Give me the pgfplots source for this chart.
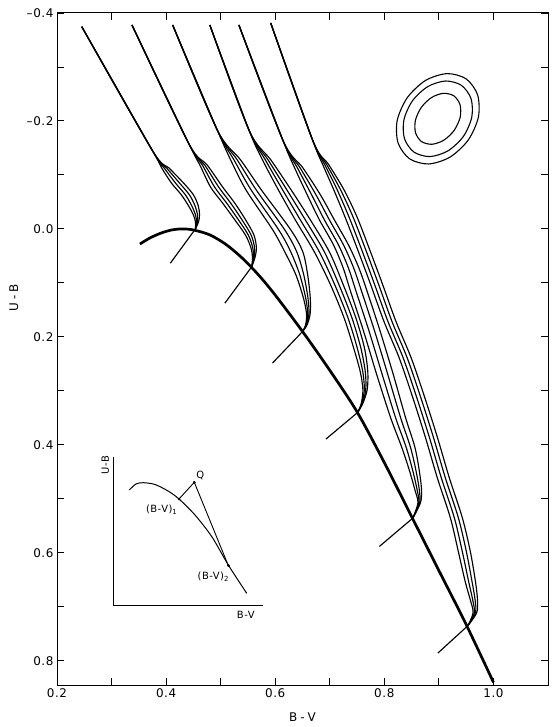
\documentclass[border=0pt]{standalone}
\usepackage{fontspec}
\setmainfont{DejaVu Sans}[LetterSpace=5]
\usepackage{pgfplots}
\usetikzlibrary{calc}
\pgfplotsset{compat=1.18}
\begin{document}
\begin{tikzpicture}
\pgfplotsset{
  tc/.style={black, line width=1.15bp, smooth, no markers},
  tl/.style={black, line width=1.15bp, no markers},
}
\begin{axis}[name=main, scale only axis, width=491bp, height=672bp,
  xmin=0.2, xmax=1.1, ymin=-0.4, ymax=0.845, y dir=reverse,
  xtick={0.2,0.3,0.4,0.5,0.6,0.7,0.8,0.9,1.0},
  xticklabels={0.2,,0.4,,0.6,,0.8,,1.0},
  ytick={-0.4,-0.3,-0.2,-0.1,0,0.1,0.2,0.3,0.4,0.5,0.6,0.7,0.8},
  yticklabels={{--\hspace{0.05em}0.4},,{--\hspace{0.05em}0.2},,0.0,,0.2,,0.4,,0.6,,0.8},
  tick style={black, line width=0.9bp}, major tick length=7bp,
  axis line style={line width=1.0bp},
  ticklabel style={font=\fontsize{12}{14}\selectfont},
  xlabel={B\hspace{0.25em}-\hspace{0.25em}V}, ylabel={U\hspace{0.25em}-\hspace{0.25em}B},
  label style={font=\fontsize{12}{14}\selectfont},
  ylabel style={at={(axis description cs:-0.088,0.576)}, anchor=center},
  xlabel style={at={(axis description cs:0.5,-0.048)}, anchor=center},
]
% intrinsic line (thick)
\addplot[black, line width=2.7bp, smooth] coordinates {(0.352,0.028) (0.37,0.017) (0.39,0.008) (0.41,0.002) (0.43,0.0) (0.45,0.002) (0.48,0.011) (0.51,0.029) (0.54,0.0545) (0.57,0.086) (0.60,0.1226) (0.65,0.190) (0.70,0.262) (0.75,0.339) (0.80,0.433) (0.85,0.533) (0.90,0.633) (0.95,0.733) (1.0,0.84)};
% bundle 1
\addplot[tc] coordinates {(0.2454,-0.3746) (0.3742,-0.1463) (0.3919,-0.1130) (0.4096,-0.0852) (0.4280,-0.0630) (0.4412,-0.0426) (0.4500,-0.0259) (0.4538,-0.0130) (0.4538,0.0)};
\addplot[tc] coordinates {(0.2454,-0.3746) (0.3742,-0.1463) (0.3964,-0.1130) (0.4170,-0.0852) (0.4354,-0.0630) (0.4471,-0.0426) (0.4538,-0.0259) (0.4557,-0.0130) (0.4538,0.0)};
\addplot[tc] coordinates {(0.2454,-0.3746) (0.3742,-0.1463) (0.4008,-0.1130) (0.4244,-0.0852) (0.4428,-0.0630) (0.4531,-0.0426) (0.4575,-0.0259) (0.4575,-0.0130) (0.4538,0.0)};
\addplot[tc] coordinates {(0.2454,-0.3746) (0.3742,-0.1463) (0.4053,-0.1130) (0.4318,-0.0852) (0.4502,-0.0630) (0.4590,-0.0426) (0.4612,-0.0259) (0.4594,-0.0130) (0.4538,0.0)};
\addplot[tl] coordinates {(0.4538,0.0) (0.4078,0.0635)};
% bundle 2
\addplot[tc] coordinates {(0.3374,-0.3778) (0.4409,-0.1593) (0.4618,-0.1185) (0.4813,-0.0778) (0.5034,-0.0481) (0.5247,-0.0185) (0.5453,0.0111) (0.5555,0.0352) (0.5583,0.0537) (0.5568,0.0704)};
\addplot[tc] coordinates {(0.3374,-0.3778) (0.4409,-0.1593) (0.4663,-0.1185) (0.4887,-0.0778) (0.5108,-0.0481) (0.5314,-0.0185) (0.5505,0.0111) (0.5588,0.0352) (0.5598,0.0537) (0.5568,0.0704)};
\addplot[tc] coordinates {(0.3374,-0.3778) (0.4409,-0.1593) (0.4707,-0.1185) (0.4961,-0.0778) (0.5182,-0.0481) (0.5380,-0.0185) (0.5557,0.0111) (0.5622,0.0352) (0.5612,0.0537) (0.5568,0.0704)};
\addplot[tc] coordinates {(0.3374,-0.3778) (0.4409,-0.1593) (0.4752,-0.1185) (0.5035,-0.0778) (0.5256,-0.0481) (0.5447,-0.0185) (0.5609,0.0111) (0.5655,0.0352) (0.5627,0.0537) (0.5568,0.0704)};
\addplot[tl] coordinates {(0.5568,0.0704) (0.5077,0.1376)};
% bundle 3
\addplot[tc] coordinates {(0.4120,-0.3778) (0.4937,-0.1833) (0.5183,-0.1278) (0.5464,-0.0722) (0.5955,0.0019) (0.6175,0.0426) (0.6379,0.0852) (0.6516,0.1278) (0.6574,0.1574) (0.6557,0.1778) (0.6500,0.1902)};
\addplot[tc] coordinates {(0.4120,-0.3778) (0.4937,-0.1833) (0.5244,-0.1278) (0.5558,-0.0722) (0.6065,0.0019) (0.6285,0.0426) (0.6451,0.0852) (0.6558,0.1278) (0.6596,0.1574) (0.6566,0.1778) (0.6500,0.1902)};
\addplot[tc] coordinates {(0.4120,-0.3778) (0.4937,-0.1833) (0.5304,-0.1278) (0.5652,-0.0722) (0.6175,0.0019) (0.6395,0.0426) (0.6523,0.0852) (0.6600,0.1278) (0.6618,0.1574) (0.6574,0.1778) (0.6500,0.1902)};
\addplot[tc] coordinates {(0.4120,-0.3778) (0.4937,-0.1833) (0.5365,-0.1278) (0.5746,-0.0722) (0.6286,0.0019) (0.6506,0.0426) (0.6595,0.0852) (0.6642,0.1278) (0.6640,0.1574) (0.6583,0.1778) (0.6500,0.1902)};
\addplot[tl] coordinates {(0.6500,0.1902) (0.5949,0.2487)};
% bundle 4
\addplot[tc] coordinates {(0.4801,-0.3778) (0.5518,-0.1833) (0.5768,-0.1278) (0.6058,-0.0722) (0.6368,-0.0167) (0.6717,0.0426) (0.7014,0.1037) (0.7262,0.1648) (0.7437,0.2204) (0.7559,0.2648) (0.7607,0.2981) (0.7577,0.3234) (0.7512,0.3400)};
\addplot[tc] coordinates {(0.4801,-0.3778) (0.5518,-0.1833) (0.5819,-0.1278) (0.6136,-0.0722) (0.6460,-0.0167) (0.6809,0.0426) (0.7092,0.1037) (0.7334,0.1648) (0.7503,0.2204) (0.7605,0.2648) (0.7633,0.2981) (0.7586,0.3234) (0.7512,0.3400)};
\addplot[tc] coordinates {(0.4801,-0.3778) (0.5518,-0.1833) (0.5869,-0.1278) (0.6214,-0.0722) (0.6552,-0.0167) (0.6901,0.0426) (0.7170,0.1037) (0.7406,0.1648) (0.7569,0.2204) (0.7651,0.2648) (0.7659,0.2981) (0.7596,0.3234) (0.7512,0.3400)};
\addplot[tc] coordinates {(0.4801,-0.3778) (0.5518,-0.1833) (0.5920,-0.1278) (0.6292,-0.0722) (0.6644,-0.0167) (0.6993,0.0426) (0.7248,0.1037) (0.7478,0.1648) (0.7635,0.2204) (0.7697,0.2648) (0.7685,0.2981) (0.7605,0.3234) (0.7512,0.3400)};
\addplot[tl] coordinates {(0.7512,0.3400) (0.6929,0.3894)};
% bundle 5
\addplot[tc] coordinates {(0.5334,-0.3778) (0.6138,-0.1648) (0.6356,-0.1130) (0.6587,-0.0630) (0.6810,-0.0167) (0.7068,0.0296) (0.7245,0.0722) (0.7384,0.1167) (0.7623,0.1907) (0.7862,0.2704) (0.8116,0.3500) (0.8316,0.4037) (0.8456,0.4463) (0.8560,0.4833) (0.8616,0.5074) (0.8523,0.5357)};
\addplot[tc] coordinates {(0.5334,-0.3778) (0.6138,-0.1648) (0.6407,-0.1130) (0.6668,-0.0630) (0.6901,-0.0167) (0.7159,0.0296) (0.7341,0.0722) (0.7485,0.1167) (0.7724,0.1907) (0.7963,0.2704) (0.8207,0.3500) (0.8397,0.4037) (0.8517,0.4463) (0.8601,0.4833) (0.8631,0.5074) (0.8523,0.5357)};
\addplot[tc] coordinates {(0.5334,-0.3778) (0.6138,-0.1648) (0.6457,-0.1130) (0.6748,-0.0630) (0.6993,-0.0167) (0.7251,0.0296) (0.7437,0.0722) (0.7587,0.1167) (0.7826,0.1907) (0.8065,0.2704) (0.8299,0.3500) (0.8477,0.4037) (0.8577,0.4463) (0.8641,0.4833) (0.8647,0.5074) (0.8523,0.5357)};
\addplot[tc] coordinates {(0.5334,-0.3778) (0.6138,-0.1648) (0.6508,-0.1130) (0.6829,-0.0630) (0.7084,-0.0167) (0.7342,0.0296) (0.7533,0.0722) (0.7688,0.1167) (0.7927,0.1907) (0.8166,0.2704) (0.8390,0.3500) (0.8558,0.4037) (0.8638,0.4463) (0.8682,0.4833) (0.8662,0.5074) (0.8523,0.5357)};
\addplot[tl] coordinates {(0.8523,0.5357) (0.7909,0.5883)};
% bundle 6
\addplot[tc] coordinates {(0.5917,-0.3815) (0.6684,-0.1648) (0.6874,-0.1185) (0.7074,-0.0722) (0.7279,-0.0222) (0.7499,0.0352) (0.7738,0.1000) (0.7996,0.1722) (0.8272,0.2389) (0.8511,0.3093) (0.8750,0.3852) (0.8971,0.4611) (0.9210,0.5352) (0.9357,0.5981) (0.9483,0.6537) (0.9575,0.6870) (0.9627,0.7111) (0.9531,0.7352)};
\addplot[tc] coordinates {(0.5917,-0.3815) (0.6684,-0.1648) (0.6911,-0.1185) (0.7137,-0.0722) (0.7352,-0.0222) (0.7572,0.0352) (0.7811,0.1000) (0.8069,0.1722) (0.8345,0.2389) (0.8584,0.3093) (0.8823,0.3852) (0.9044,0.4611) (0.9283,0.5352) (0.9430,0.5981) (0.9546,0.6537) (0.9619,0.6870) (0.9649,0.7111) (0.9531,0.7352)};
\addplot[tc] coordinates {(0.5917,-0.3815) (0.6684,-0.1648) (0.6947,-0.1185) (0.7199,-0.0722) (0.7426,-0.0222) (0.7646,0.0352) (0.7885,0.1000) (0.8143,0.1722) (0.8419,0.2389) (0.8658,0.3093) (0.8897,0.3852) (0.9118,0.4611) (0.9357,0.5352) (0.9504,0.5981) (0.9608,0.6537) (0.9663,0.6870) (0.9671,0.7111) (0.9531,0.7352)};
\addplot[tc] coordinates {(0.5917,-0.3815) (0.6684,-0.1648) (0.6984,-0.1185) (0.7262,-0.0722) (0.7499,-0.0222) (0.7719,0.0352) (0.7958,0.1000) (0.8216,0.1722) (0.8492,0.2389) (0.8731,0.3093) (0.8970,0.3852) (0.9191,0.4611) (0.9430,0.5352) (0.9577,0.5981) (0.9671,0.6537) (0.9707,0.6870) (0.9693,0.7111) (0.9531,0.7352)};
\addplot[tl] coordinates {(0.9531,0.7352) (0.8983,0.7857)};
% ellipses
\addplot[black, line width=1.1bp, smooth cycle] coordinates {(0.9499,-0.2780) (0.9709,-0.2485) (0.9724,-0.2071) (0.9539,-0.1648) (0.9205,-0.1331) (0.8810,-0.1203) (0.8461,-0.1300) (0.8251,-0.1595) (0.8236,-0.2010) (0.8421,-0.2432) (0.8755,-0.2750) (0.9150,-0.2877)};
\addplot[black, line width=1.1bp, smooth cycle] coordinates {(0.9414,-0.2659) (0.9590,-0.2412) (0.9602,-0.2066) (0.9448,-0.1712) (0.9168,-0.1447) (0.8838,-0.1340) (0.8546,-0.1421) (0.8370,-0.1668) (0.8358,-0.2015) (0.8512,-0.2368) (0.8792,-0.2634) (0.9122,-0.2740)};
\addplot[black, line width=1.1bp, smooth cycle] coordinates {(0.9277,-0.2463) (0.9388,-0.2300) (0.9390,-0.2068) (0.9282,-0.1828) (0.9093,-0.1645) (0.8874,-0.1568) (0.8683,-0.1617) (0.8572,-0.1780) (0.8570,-0.2012) (0.8678,-0.2252) (0.8867,-0.2435) (0.9086,-0.2512)};
\end{axis}
% inset
\begin{axis}[at={($(main.south west)+(56.3bp,80bp)$)}, anchor=south west,
  scale only axis, width=150bp, height=148bp, xmin=0, xmax=150, ymin=0, ymax=148,
  hide axis, clip=false]
\addplot[black, line width=0.9bp] coordinates {(0,148) (0,0) (150,0)};
\addplot[black, line width=1.0bp, smooth] coordinates {(16,115) (22.7,121) (30,122.3) (41.7,120.5) (54.7,114) (65.7,106) (81.7,90) (98.7,68) (115,40) (133.4,11.7)};
\addplot[black, line width=0.9bp] coordinates {(65.7,106) (81,122.7) (115,39.5)};
\addplot[black, only marks, mark=*, mark size=1.2bp] coordinates {(65.7,106) (81,122.7) (115,39.5)};
\node[font=\fontsize{10}{11}\selectfont] at (axis cs:87,130) {Q};
\node[font=\fontsize{10}{11}\selectfont] at (axis cs:48.4,95) {(B-V)\textsubscript{1}};
\node[font=\fontsize{10}{11}\selectfont] at (axis cs:100,28.3) {(B-V)\textsubscript{2}};
\node[font=\fontsize{10}{11}\selectfont, rotate=90] at (axis cs:-8,140) {U-B};
\node[font=\fontsize{10}{11}\selectfont] at (axis cs:132.5,-10) {B-V};
\end{axis}
\pgfresetboundingbox
\path ([shift={(-57bp,-42bp)}]main.south west) rectangle ([shift={(12bp,13bp)}]main.north east);
\end{tikzpicture}
\end{document}
